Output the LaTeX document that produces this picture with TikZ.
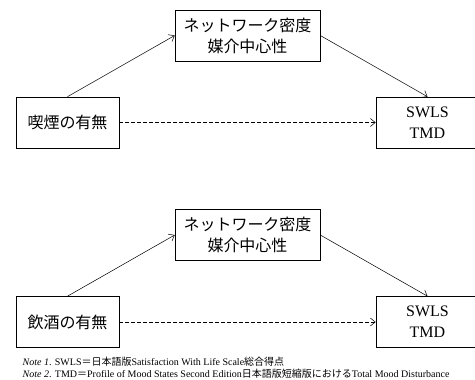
\documentclass[tikz,border=0pt]{standalone}
\usepackage{fontspec}
\setmainfont{Liberation Serif}
\newfontfamily\jp{Noto Sans CJK JP}
\usetikzlibrary{arrows.meta}
\tikzset{
  box/.style={draw, line width=0.6pt, minimum height=51pt, inner sep=0pt, align=center, font=\fontsize{16}{21}\selectfont},
  link/.style={line width=0.5pt, -{Straight Barb[length=5pt,width=8pt]}},
  dlink/.style={link, dash pattern=on 3.5pt off 2.5pt},
  note/.style={anchor=west, inner sep=0pt, font=\fontsize{10}{11}\selectfont}
}
\begin{document}
\begin{tikzpicture}[x=1pt,y=-1pt]
\useasboundingbox (0,0) rectangle (475,380);
% top diagram
\node[box, minimum width=103pt] (L1) at (67.5,122.5) {\jp 喫煙の有無};
\node[box, minimum width=145pt] (M1) at (247.5,35.5) {\jp ネットワーク密度\\\jp 媒介中心性};
\node[box, minimum width=103pt] (R1) at (427.5,122.5) {SWLS\\TMD};
\draw[link] (L1.north) -- (M1.west);
\draw[link] (M1.east) -- (R1.north);
\draw[dlink] (L1.east) -- (R1.west);
% bottom diagram
\node[box, minimum width=103pt] (L2) at (67.5,322) {\jp 飲酒の有無};
\node[box, minimum width=145pt] (M2) at (247.5,235) {\jp ネットワーク密度\\\jp 媒介中心性};
\node[box, minimum width=103pt] (R2) at (427.5,322) {SWLS\\TMD};
\draw[link] (L2.north) -- (M2.west);
\draw[link] (M2.east) -- (R2.north);
\draw[dlink] (L2.east) -- (R2.west);
% notes
\node[note] (n1) at (22.5,362) {\textit{Note 1}. SWLS{\jp ＝日本語版}Satisfaction With Life Scale{\jp 総合得点}};
\node[note] (n2) at (22.5,373.5) {\textit{Note 2}. TMD{\jp ＝}Profile of Mood States Second Edition{\jp 日本語版短縮版における}Total Mood Disturbance};
\end{tikzpicture}
\end{document}
